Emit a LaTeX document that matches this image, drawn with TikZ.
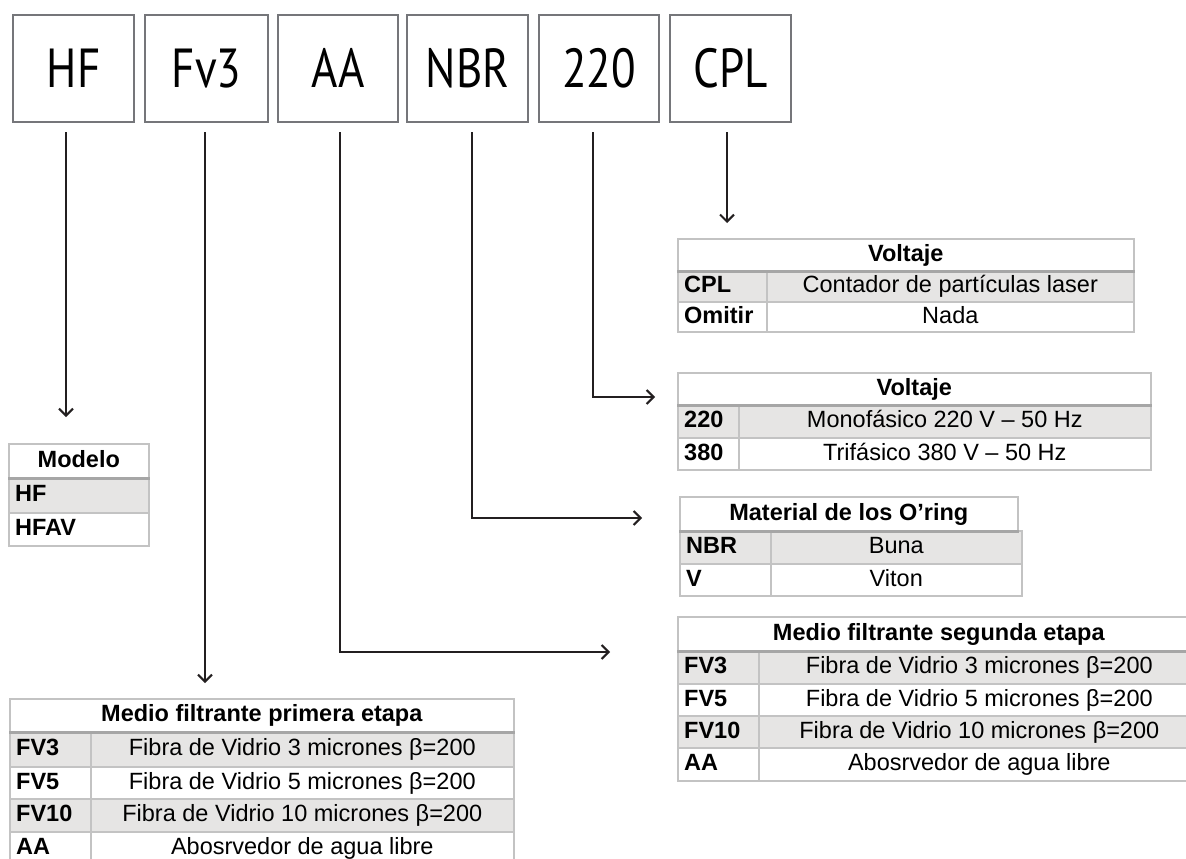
\documentclass[tikz,border=0pt]{standalone}
\usepackage{fontspec}
\setmainfont{Liberation Sans}
\newfontfamily\boxfont[FakeStretch=0.82]{PT Sans}
\usetikzlibrary{arrows.meta}
\definecolor{boxgray}{HTML}{75767A}
\definecolor{tabline}{HTML}{C3C3C3}
\definecolor{rowgray}{HTML}{E6E5E4}
\definecolor{arrowc}{HTML}{231F20}
\newcommand{\trow}[9]{%
  \node[cell, fill=#7, minimum width={#3-#2}, minimum height={#6-#5}] (#1c) at (#2,#5) {};
  \node[cell, fill=#7, minimum width={#4-#3}, minimum height={#6-#5}] (#1d) at (#3,#5) {#9};
  \node[codetext] (#1t) at ([xshift=7pt]#1c.west) {#8};
}
\begin{document}
\begin{tikzpicture}[x=1pt,y=-1pt,
  codebox/.style={draw=boxgray, line width=2.4pt, anchor=north west, minimum width=121pt, minimum height=107pt, inner sep=0pt, text height=38pt, text depth=0pt, font=\boxfont\fontsize{55}{60}\selectfont},
  cell/.style={draw=tabline, line width=1.6pt, anchor=north west, inner sep=0pt, text height=17pt, text depth=4pt, font=\fontsize{23.5}{27}\selectfont},
  hdrcell/.style={cell, font=\bfseries\fontsize{23.5}{27}\selectfont},
  codetext/.style={anchor=west, inner sep=0pt, text height=17pt, text depth=4pt, font=\bfseries\fontsize{23.5}{27}\selectfont},
  arr/.style={draw=arrowc, line width=2pt, -{Straight Barb[length=7pt,width=14pt]}},
  hsep/.style={draw=tabline!85!black, line width=3pt}
]
\path[use as bounding box, clip] (0,0) rectangle (1186,859);
\fill[white] (0,0) rectangle (1186,859);

% top code boxes
\node[codebox] (bHF)  at (12,14)  {HF};
\node[codebox, minimum width=123pt] (bFV)  at (144,14) {Fv3};
\node[codebox, minimum width=120pt] (bAA)  at (277,14) {AA};
\node[codebox] (bNBR) at (406,14) {NBR};
\node[codebox, minimum width=120pt] (b220) at (538,14) {220};
\node[codebox] (bCPL) at (669,14) {CPL};

% Modelo table
\node[hdrcell, minimum width=140, minimum height=34] (mH) at (8,443) {Modelo};
\node[cell, fill=rowgray, minimum width=140, minimum height=35] (mR1) at (8,477) {};
\node[codetext] (mR1t) at ([xshift=7pt]mR1.west) {HF};
\node[cell, fill=white, minimum width=140, minimum height=33] (mR2) at (8,512) {};
\node[codetext] (mR2t) at ([xshift=7pt]mR2.west) {HFAV};
\draw[hsep] (mH.south west) -- (mH.south east);

% CPL table
\node[hdrcell, minimum width=456, minimum height=32] (cH) at (677,238) {Voltaje};
\trow{cA}{677}{766}{1133}{270}{301}{rowgray}{CPL}{Contador de partículas laser}
\trow{cB}{677}{766}{1133}{301}{331}{white}{Omitir}{Nada}
\draw[hsep] (cH.south west) -- (cH.south east);

% 220 table
\node[hdrcell, minimum width=473, minimum height=32] (vH) at (677,372) {Voltaje};
\trow{vA}{677}{738}{1150}{404}{437}{rowgray}{220}{Monofásico 220 V – 50 Hz}
\trow{vB}{677}{738}{1150}{437}{469}{white}{380}{Trifásico 380 V – 50 Hz}
\draw[hsep] (vH.south west) -- (vH.south east);

% O'ring table
\node[hdrcell, minimum width=338, minimum height=34] (oH) at (679,496) {Material de los O’ring};
\trow{oA}{679}{770}{1021}{530}{563}{rowgray}{NBR}{Buna}
\trow{oB}{679}{770}{1021}{563}{595}{white}{V}{Viton}
\draw[hsep] (oH.south west) -- (oH.south east);

% Segunda etapa table
\node[hdrcell, minimum width=522, minimum height=34] (sH) at (677,616) {Medio filtrante segunda etapa};
\trow{sA}{677}{758}{1199}{650}{683}{rowgray}{FV3}{Fibra de Vidrio 3 micrones β=200}
\trow{sB}{677}{758}{1199}{683}{715}{white}{FV5}{Fibra de Vidrio 5 micrones β=200}
\trow{sC}{677}{758}{1199}{715}{747}{rowgray}{FV10}{Fibra de Vidrio 10 micrones β=200}
\trow{sD}{677}{758}{1199}{747}{780}{white}{AA}{Abosrvedor de agua libre}
\draw[hsep] (sH.south west) -- (sH.south east);

% Primera etapa table
\node[hdrcell, minimum width=504, minimum height=33] (pH) at (9,698) {Medio filtrante primera etapa};
\trow{pA}{9}{90}{513}{731}{766}{rowgray}{FV3}{Fibra de Vidrio 3 micrones β=200}
\trow{pB}{9}{90}{513}{766}{798}{white}{FV5}{Fibra de Vidrio 5 micrones β=200}
\trow{pC}{9}{90}{513}{798}{831}{rowgray}{FV10}{Fibra de Vidrio 10 micrones β=200}
\trow{pD}{9}{90}{513}{831}{864}{white}{AA}{Abosrvedor de agua libre}
\draw[hsep] (pH.south west) -- (pH.south east);

% connector coordinates
\coordinate (sHF) at (66,132);   \coordinate (eHF) at (66,417);
\coordinate (sFV) at (205,132);  \coordinate (eFV) at (205,683);
\coordinate (sAA) at (340,132);  \coordinate (eAA) at (610,652);
\coordinate (sNB) at (472,132);  \coordinate (eNB) at (642,518);
\coordinate (s22) at (593,132);  \coordinate (e22) at (655,397);
\coordinate (sCP) at (727,132);  \coordinate (eCP) at (727,223);

\draw[arr] (sHF) -- (eHF);
\draw[arr] (sFV) -- (eFV);
\draw[arr] (sAA) |- (eAA);
\draw[arr] (sNB) |- (eNB);
\draw[arr] (s22) |- (e22);
\draw[arr] (sCP) -- (eCP);
\end{tikzpicture}
\end{document}
